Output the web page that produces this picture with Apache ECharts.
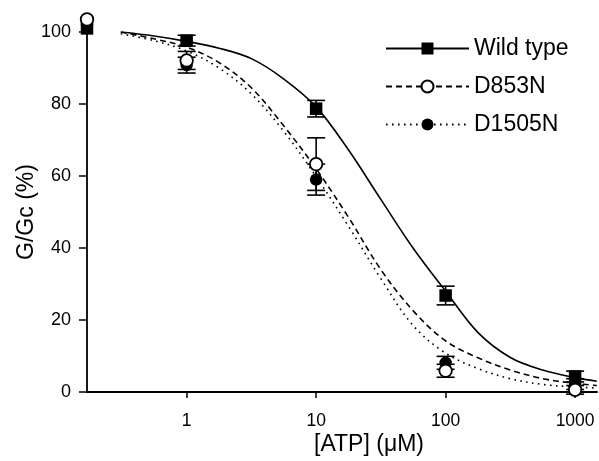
<!DOCTYPE html>
<html>
<head>
<meta charset="utf-8">
<script src="https://cdn.jsdelivr.net/npm/echarts@6/dist/echarts.min.js"></script>
<style>
  html, body { margin: 0; padding: 0; background: #fff; }
  #chart { width: 599px; height: 461px; }
</style>
</head>
<body>
<div id="chart"></div>
<script>
// ATP concentrations (µM); the first one is the control, drawn on the y axis
const atp = [0.17, 1, 10, 100, 1000]
const wildType = [101, 97.6, 78.7, 26.8, 4.3]
const wildTypeErr = [0, 1.5, 2.3, 2.6, 1.5]
const d853n = [103.5, 92.1, 63.3, 5.9, 0.6]
const d853nErr = [0, 2.5, 7.3, 1.8, 1.2]
const d1505n = [102, 90.8, 59.0, 8.1, 2.2]
const d1505nErr = [0, 2.2, 4.3, 1.8, 1.5]

// fitted curves at half-decade steps
const curveX = [0.31, 0.56, 1, 1.78, 3.16, 5.6, 10, 17.8, 31.6, 56, 100, 178, 316, 562, 1000, 1470]
const wtCurve = [100, 98.9, 97.4, 95.5, 92.6, 87, 79.2, 67.2, 53.5, 40, 28, 16.5, 9.6, 6.1, 4.0, 3.0]
const d853nCurve = [100, 98.1, 95.8, 91.5, 84.5, 74, 62, 48.5, 34, 22.6, 14.2, 9.5, 6.1, 3.7, 2.4, 1.8]
const d1505nCurve = [99.5, 97.6, 94.7, 90, 82.8, 72.5, 59.8, 46, 31.5, 18.5, 10.8, 6.5, 3.7, 2.1, 1.4, 1.1]

const xTicks = [1, 10, 100, 1000]
const xMin = 0.17
const xMax = 1476

const font = "'Liberation Sans', Arial, sans-serif"
const chart = echarts.init(document.getElementById('chart'))

const pairs = (xs, ys) => xs.map((x, i) => [x, ys[i]])

const curve = (name, ys, lineType, symbol) => ({
  name,
  type: 'line',
  data: pairs(curveX, ys),
  smooth: 0.35,
  symbol,
  showSymbol: false,
  silent: true,
  z: 2,
  lineStyle: { color: '#000', width: 1.6, type: lineType },
  itemStyle: { color: '#000' }
})

const errorBars = (name, vals, errs, z) => ({
  name,
  type: 'custom',
  z,
  clip: false,
  silent: true,
  data: atp.map((x, i) => [x, vals[i] - errs[i], vals[i] + errs[i]]),
  renderItem: (params, api) => {
    const x = api.value(0)
    const lo = api.value(1)
    const hi = api.value(2)
    if (hi === lo) return
    const top = api.coord([x, hi])
    const bot = api.coord([x, lo])
    const w = 9
    const style = { stroke: '#000', lineWidth: 1.6 }
    return {
      type: 'group',
      children: [
        { type: 'line', shape: { x1: top[0], y1: top[1], x2: bot[0], y2: bot[1] }, style },
        { type: 'line', shape: { x1: top[0] - w, y1: top[1], x2: top[0] + w, y2: top[1] }, style },
        { type: 'line', shape: { x1: bot[0] - w, y1: bot[1], x2: bot[0] + w, y2: bot[1] }, style }
      ]
    }
  }
})

const markers = (name, vals, symbol, fill, z) => ({
  name,
  type: 'scatter',
  z,
  clip: false,
  silent: true,
  data: pairs(atp, vals),
  symbol,
  symbolSize: 12.5,
  itemStyle: { color: fill, borderColor: '#000', borderWidth: fill === '#fff' ? 1.8 : 0, opacity: 1 }
})

chart.setOption({
  animation: false,
  backgroundColor: '#fff',
  textStyle: { fontFamily: font, color: '#000' },
  grid: { left: 87, right: 2, top: 32, bottom: 69, containLabel: false, outerBoundsMode: 'none' },
  legend: {
    data: ['Wild type', 'D853N', 'D1505N'],
    orient: 'vertical',
    left: 385,
    top: 37,
    padding: 0,
    itemWidth: 83,
    itemHeight: 15,
    itemGap: 15,
    selectedMode: false,
    textStyle: { fontSize: 23, color: '#000', fontFamily: font, lineHeight: 23 }
  },
  xAxis: {
    type: 'log',
    logBase: 10,
    min: xMin,
    max: xMax,
    name: '[ATP] (μM)',
    nameLocation: 'middle',
    nameGap: 41,
    nameMoveOverlap: false,
    nameTextStyle: { fontSize: 23, color: '#000', fontFamily: font, padding: [0, 0, 0, 54] },
    axisLine: { show: true, lineStyle: { color: '#000', width: 1.8 } },
    axisTick: { show: true, customValues: xTicks, length: 6, lineStyle: { color: '#000', width: 1.5 } },
    axisLabel: { customValues: xTicks, fontSize: 17.5, color: '#000', margin: 20, formatter: v => String(v) },
    splitLine: { show: false },
    minorTick: { show: false }
  },
  yAxis: {
    type: 'value',
    min: 0,
    max: 100,
    interval: 20,
    name: 'G/Gc (%)',
    nameLocation: 'middle',
    nameGap: 49,
    nameMoveOverlap: false,
    nameTextStyle: { fontSize: 23, color: '#000', fontFamily: font },
    axisLine: { show: true, lineStyle: { color: '#000', width: 1.8 } },
    axisTick: { show: true, length: 8, lineStyle: { color: '#000', width: 1.5 } },
    axisLabel: { fontSize: 18, color: '#000', margin: 16 },
    splitLine: { show: false }
  },
  series: [
    curve('Wild type', wtCurve, 'solid', 'rect'),
    curve('D853N', d853nCurve, [6, 4], 'emptyCircle'),
    curve('D1505N', d1505nCurve, [1.6, 4.4], 'circle'),
    errorBars('Wild type', wildType, wildTypeErr, 3),
    markers('Wild type', wildType, 'rect', '#000', 4),
    errorBars('D1505N', d1505n, d1505nErr, 5),
    markers('D1505N', d1505n, 'circle', '#000', 6),
    errorBars('D853N', d853n, d853nErr, 7),
    markers('D853N', d853n, 'circle', '#fff', 8)
  ]
})

window.addEventListener('resize', () => chart.resize())
</script>
</body>
</html>
